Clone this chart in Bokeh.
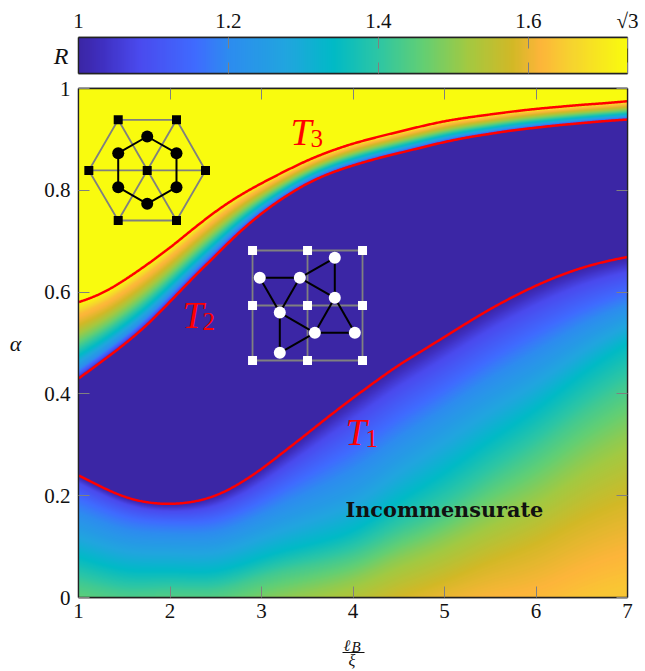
import numpy as np
from bokeh.core.properties import value
from bokeh.embed import file_html
from bokeh.layouts import column
from bokeh.models import (CustomJSTickFormatter, FixedTicker, Label, LinearAxis,
                          LinearColorMapper, Range1d)
from bokeh.plotting import figure
from bokeh.resources import INLINE

SQRT3 = 3 ** 0.5
FONT = "Liberation Serif"

# colour scale of R
R_STOPS = [1.0, 1.03, 1.08, 1.155, 1.2, 1.28, 1.34, 1.40, 1.46, 1.52, 1.58, 1.617, 1.66, 1.732]
COLOR_STOPS = ["#3b26a5", "#3f2fc0", "#4a4aee", "#3f6bff", "#2d8cef", "#20a6de", "#00bac6",
               "#2dc6a4", "#63cf73", "#a3c941", "#d2b826", "#fdb53a", "#f6d42e", "#f9fb0e"]

# transition lines
T_X = [1, 1.25, 1.5, 1.75, 2, 2.25, 2.5, 2.75, 3, 3.25, 3.5, 3.75, 4, 4.25, 4.5, 4.75, 5,
       5.25, 5.5, 5.75, 6, 6.25, 6.5, 6.75, 7]
T1 = [.24, .217, .197, .186, .183, .187, .199, .222, .252, .287, .322, .358, .392, .425, .457,
      .484, .512, .54, .567, .591, .613, .632, .648, .66, .669]
T2 = [.43, .463, .497, .535, .581, .628, .672, .717, .755, .787, .814, .834, .849, .862, .873,
      .884, .895, .904, .911, .918, .923, .928, .932, .936, .939]
T3 = [.58, .596, .623, .654, .687, .724, .759, .789, .814, .837, .859, .877, .892, .904, .915,
      .926, .936, .943, .949, .955, .96, .964, .968, .971, .975]

# incommensurate region: alpha at which R reaches each level, at x = 1..7
LEVEL_X = [1, 2, 3, 4, 5, 6, 7]
LEVEL_R = [1.0, 1.08, 1.155, 1.25, 1.34, 1.42, 1.5, 1.58, 1.64]
A_100 = [.24, .183, .252, .392, .512, .613, .669]
A_108 = [.225, .17, .225, .35, .47, .575, .64]
A_115 = [.195, .15, .19, .29, .41, .52, .60]
A_125 = [.135, .105, .135, .20, .33, .44, .55]
A_134 = [.08, .057, .082, .125, .245, .367, .50]
A_142 = [.03, .02, .045, .08, .17, .29, .42]
A_150 = [-.04, -.03, -.01, .03, .11, .20, .32]
A_158 = [-.12, -.10, -.08, -.04, .03, .10, .19]
A_164 = [-.22, -.2, -.2, -.12, -.06, -.05, .02]

# between T2 and T3: R across the band (0 = T2, 1 = T3)
BAND_F = [0, .05, .12, .3, .5, .7, .85, 1]
BAND_R = [1.0, 1.1, 1.2, 1.34, 1.47, 1.58, 1.63, 1.732]

# insets
HEX_SQ_X = [1.434, 2.071, 2.388, 2.071, 1.434, 1.113, 1.751]
HEX_SQ_Y = [.9385, .9385, .839, .7407, .7407, .839, .839]
HEX_CI_X = [1.751, 2.071, 2.071, 1.751, 1.434, 1.434]
HEX_CI_Y = [.9057, .8729, .8061, .7735, .8061, .8729]
GRID_X = [2.902, 3.503, 4.104]
GRID_Y = [.4656, .5737, .6817]
TRI_X = [3.801, 2.981, 3.419, 3.801, 3.200, 3.583, 4.020, 3.200]
TRI_Y = [.6674, .6281, .6281, .5888, .5599, .5200, .5200, .4807]
TRI_EDGES = [(0, 2), (0, 3), (2, 3), (1, 2), (1, 4), (2, 4), (4, 5), (4, 7), (7, 5), (5, 6), (5, 3), (6, 3)]

X_TICKS = [1, 2, 3, 4, 5, 6, 7]
X_LABELS = ["1", "2", "3", "4", "5", "6", "7"]
Y_TICKS = [0, 0.2, 0.4, 0.6, 0.8, 1]
Y_LABELS = ["0", "0.2", "0.4", "0.6", "0.8", "1"]
CB_TICKS = [1, 1.2, 1.4, 1.6, SQRT3]
CB_LABELS = ["1", "1.2", "1.4", "1.6", "√3"]


def hex2rgb(c):
    return [int(c[i:i + 2], 16) for i in (1, 3, 5)]


rgb = np.array([hex2rgb(c) for c in COLOR_STOPS], float)
grid = np.linspace(1, SQRT3, 256)
palette = ["#%02x%02x%02x" % tuple(int(round(np.interp(r, R_STOPS, rgb[:, k]))) for k in range(3))
           for r in grid]
mapper = LinearColorMapper(palette=palette, low=1, high=SQRT3)


def smooth(v, n=21):
    pad = np.pad(v, n, mode="reflect", reflect_type="odd")
    k = np.ones(n) / n
    for _ in range(2):
        pad = np.convolve(pad, k, mode="same")
    return pad[n:-n]


NX, NY = 549, 509
xs = 1 + (np.arange(NX) + 0.5) / NX * 6
ys = (np.arange(NY) + 0.5) / NY
t1 = smooth(np.interp(xs, T_X, T1))
t2 = smooth(np.interp(xs, T_X, T2))
t3 = smooth(np.interp(xs, T_X, T3))
levels = [A_100, A_108, A_115, A_125, A_134, A_142, A_150, A_158, A_164]
base = np.array(A_100)
depth = [smooth(np.interp(xs, LEVEL_X, base - np.array(a)), 41) for a in levels]

R = np.ones((NY, NX))
for j in range(NX):
    y = ys
    contour = np.array([t1[j] - d[j] for d in depth])
    low = y < t1[j]
    R[low, j] = np.interp(y[low], contour[::-1], LEVEL_R[::-1])
    band = (y >= t2[j]) & (y <= t3[j])
    R[band, j] = np.interp((y[band] - t2[j]) / (t3[j] - t2[j]), BAND_F, BAND_R)
    R[y > t3[j], j] = SQRT3

TICK = "#808080"
W = 645


def fmt(labels):
    return CustomJSTickFormatter(args=dict(labels=labels), code="return labels[index]")


def mirror(ticks):
    return dict(ticker=FixedTicker(ticks=ticks), formatter=CustomJSTickFormatter(code="return ''"),
                major_label_standoff=0, major_tick_in=11, major_tick_out=0,
                major_tick_line_color=TICK, minor_tick_line_color=None,
                axis_line_color="#222222", axis_line_width=1.3)


def style(axis, ticks, labels, standoff):
    axis.ticker = FixedTicker(ticks=ticks)
    axis.formatter = fmt(labels)
    axis.major_label_text_font = FONT
    axis.major_label_text_font_size = "21px"
    axis.major_label_text_color = "#111111"
    axis.major_label_standoff = standoff
    axis.major_tick_in = 11
    axis.major_tick_out = 0
    axis.major_tick_line_color = TICK
    axis.minor_tick_line_color = None
    axis.axis_line_color = "#222222"
    axis.axis_line_width = 1.3


def side_label(axis, text, size, standoff):
    axis.axis_label = text
    axis.axis_label_orientation = "horizontal"
    axis.axis_label_text_font = FONT
    axis.axis_label_text_font_style = "italic"
    axis.axis_label_text_font_size = size
    axis.axis_label_text_color = "#111111"
    axis.axis_label_standoff = standoff


# colour bar
cb = figure(width=W, height=76, x_range=Range1d(1, SQRT3), y_range=Range1d(0, 1),
            toolbar_location=None, output_backend="svg", x_axis_location="above",
            min_border_left=78, min_border_right=18, min_border_top=37, min_border_bottom=3)
cb.grid.visible = False
cb.image(image=[np.tile(grid, (2, 1))], x=1, y=0, dw=SQRT3 - 1, dh=1, color_mapper=mapper)
style(cb.xaxis[0], CB_TICKS, CB_LABELS, 5)
cb.add_layout(LinearAxis(**mirror(CB_TICKS)), "below")
cbl = cb.yaxis[0]
cbl.ticker = FixedTicker(ticks=[])
cbl.major_tick_line_color = None
cbl.minor_tick_line_color = None
cbl.axis_line_color = "#222222"
cbl.axis_line_width = 1.3
side_label(cbl, "R", "24px", 10)
cb.outline_line_color = "#222222"
cb.outline_line_width = 1.3

# main panel
p = figure(width=W, height=552, x_range=Range1d(1, 7), y_range=Range1d(0, 1),
           toolbar_location=None, output_backend="svg",
           min_border_left=78, min_border_right=18, min_border_top=12, min_border_bottom=31)
p.grid.visible = False
p.image(image=[R], x=1, y=0, dw=6, dh=1, color_mapper=mapper)

style(p.xaxis[0], X_TICKS, X_LABELS, 6)
style(p.yaxis[0], Y_TICKS, Y_LABELS, 8)
side_label(p.yaxis[0], "α", "22px", 20)
p.add_layout(LinearAxis(**mirror(X_TICKS)), "above")
p.add_layout(LinearAxis(**mirror(Y_TICKS)), "right")
p.outline_line_color = "#222222"
p.outline_line_width = 1.3

# hexagonal inset
hex_x = HEX_SQ_X[:6] + HEX_SQ_X[:1]
hex_y = HEX_SQ_Y[:6] + HEX_SQ_Y[:1]
p.line(hex_x, hex_y, line_color=TICK, line_width=1.8)
p.segment(HEX_SQ_X[:3], HEX_SQ_Y[:3], HEX_SQ_X[3:6], HEX_SQ_Y[3:6], line_color=TICK, line_width=1.8)
p.line(HEX_CI_X + HEX_CI_X[:1], HEX_CI_Y + HEX_CI_Y[:1], line_color="black", line_width=2)
p.scatter(HEX_SQ_X, HEX_SQ_Y, marker="square", size=9, fill_color="black", line_color=None)
p.scatter(HEX_CI_X, HEX_CI_Y, marker="circle", size=12, fill_color="black", line_color=None)

# triangular inset
for gx in GRID_X:
    p.line([gx, gx], [GRID_Y[0], GRID_Y[-1]], line_color=TICK, line_width=1.8)
for gy in GRID_Y:
    p.line([GRID_X[0], GRID_X[-1]], [gy, gy], line_color=TICK, line_width=1.8)
p.segment([TRI_X[a] for a, b in TRI_EDGES], [TRI_Y[a] for a, b in TRI_EDGES],
          [TRI_X[b] for a, b in TRI_EDGES], [TRI_Y[b] for a, b in TRI_EDGES],
          line_color="black", line_width=2)
p.scatter([g for g in GRID_X for _ in GRID_Y], [g for _ in GRID_X for g in GRID_Y], marker="square",
          size=9, fill_color="white", line_color=None)
p.scatter(TRI_X, TRI_Y, marker="circle", size=12, fill_color="white", line_color=None)

for curve in (t1, t2, t3):
    p.line(xs, curve, line_color="#ff0000", line_width=2.5)


def label(fig, x, y, text, size, style_="normal", color="#111111", font=FONT):
    fig.add_layout(Label(x=x, y=y, text=text, text_font=font, text_font_style=style_,
                         text_font_size=size, text_color=color, text_baseline="alphabetic"))


label(p, 3.918, .3246, "T", "38px", "italic", "#ff0000")
label(p, 4.137, .313, "1", "25px", "normal", "#ff0000")
label(p, 2.137, .5545, "T", "38px", "italic", "#ff0000")
label(p, 2.355, .5427, "2", "25px", "normal", "#ff0000")
label(p, 3.317, .914, "T", "38px", "italic", "#ff0000")
label(p, 3.535, .902, "3", "25px", "normal", "#ff0000")
label(p, 3.918, .1727, "Incommensurate", "20.8px", "bold", "#111111", "DejaVu Serif")

# fraction under the x axis (strip in page coordinates)
FRAC_TEXT = ["ℓ", "B", "ξ"]
FRAC_X = [343, 351, 348]
FRAC_Y = [645, 646, 660]
FRAC_SIZE = ["16px", "15px", "16px"]
q = figure(width=W, height=43, x_range=Range1d(78, 627), y_range=Range1d(671, 628),
           toolbar_location=None, output_backend="svg",
           min_border_left=78, min_border_right=18, min_border_top=0, min_border_bottom=0)
q.xaxis.visible = False
q.yaxis.visible = False
q.grid.visible = False
q.outline_line_color = None
for tx, ty, tt, ts in zip(FRAC_X, FRAC_Y, FRAC_TEXT, FRAC_SIZE):
    q.text([tx], [ty], text=[tt], text_font=value(FONT), text_font_style="italic",
           text_font_size=value(ts), text_color="#111111", text_baseline="alphabetic")
q.line([342, 364], [652, 652], line_color="#111111", line_width=1)

open("out.html", "w").write(file_html(column(cb, p, q), INLINE))
